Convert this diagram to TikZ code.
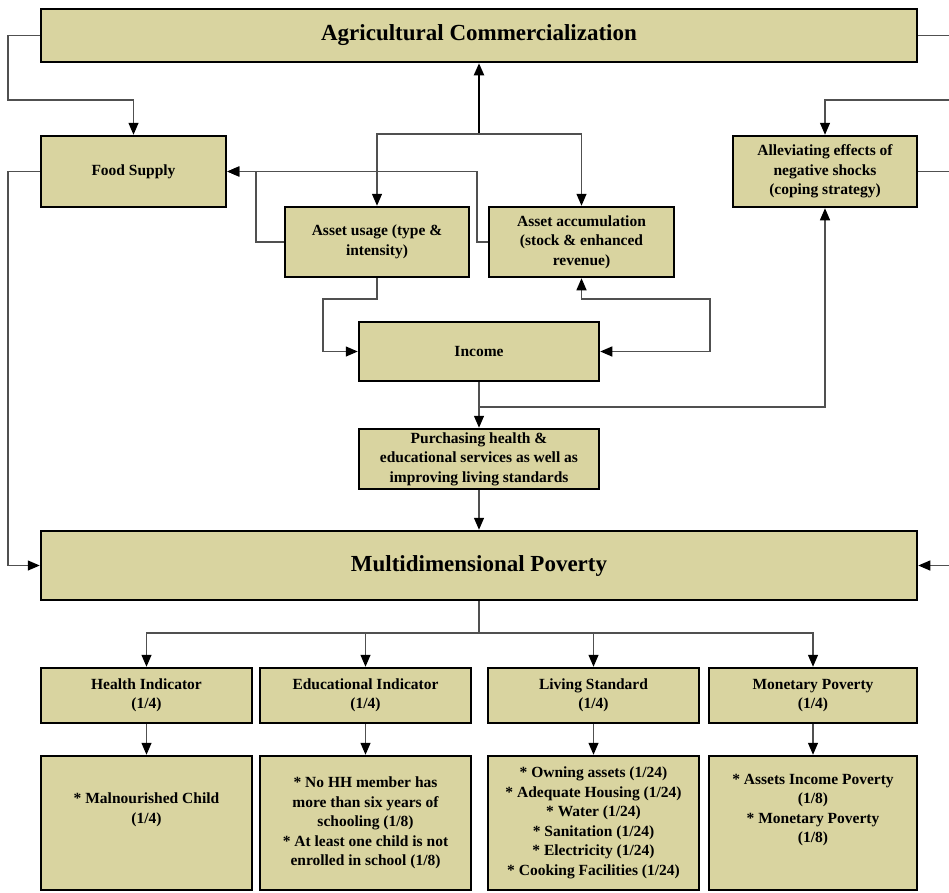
\documentclass[tikz,border=0pt]{standalone}
\usepackage{fontspec}
\setmainfont{Liberation Serif}
\usepackage{tikz}
\usetikzlibrary{arrows.meta}

\definecolor{khaki}{RGB}{217,212,160}
\definecolor{wire}{RGB}{80,80,80}

\begin{document}
\begin{tikzpicture}[x=1pt,y=-1pt,
	>={Triangle[length=12pt,width=10pt,color=black]},
	box/.style={draw=black,line width=2.5pt,fill=khaki,align=center,inner sep=2pt,
		font=\bfseries\fontsize{15.5}{19.5}\selectfont},
	head/.style={box,font=\bfseries\fontsize{23}{26}\selectfont},
	link/.style={draw=wire,line width=1.3pt},
	]

	\path[use as bounding box] (0,0) rectangle (949,892);
	\clip (0,0) rectangle (949,892);

	\coordinate (ne) at (960,100);
	\coordinate (se) at (960,565.5);
	\coordinate (nw) at (8,100);
	\coordinate (sw) at (8,565.5);
	\coordinate (junc) at (479,134);
	\coordinate (fs) at (256,171.5);
	\coordinate (fa) at (477,171.5);
	\coordinate (ul) at (323,299);
	\coordinate (ir) at (710,299);
	\coordinate (tap) at (479,407);
	\coordinate (split) at (479,633);

	\node[head, minimum width=876pt, minimum height=53pt] (agri) at (479,35.5) {Agricultural Commercialization};
	\node[box, minimum width=185pt, minimum height=71pt] (food) at (133.5,171.5) {Food Supply};
	\node[box, minimum width=184pt, minimum height=71pt] (allev) at (825,171.5) {Alleviating effects of\\negative shocks\\(coping strategy)};
	\node[box, minimum width=184pt, minimum height=70pt] (use) at (377,242) {Asset usage (type \&\\intensity)};
	\node[box, minimum width=185pt, minimum height=70pt] (accum) at (581.5,242) {Asset accumulation\\(stock \& enhanced\\revenue)};
	\node[box, minimum width=240pt, minimum height=59pt] (income) at (479,351.5) {Income};
	\node[box, minimum width=240pt, minimum height=60pt] (purch) at (479,459) {Purchasing health \&\\educational services as well as\\improving living standards};
	\node[head, minimum width=876pt, minimum height=69pt] (multi) at (479,565.5) {Multidimensional Poverty};

	\node[box, minimum width=211pt, minimum height=55pt] (health) at (146.5,695.5) {Health Indicator\\(1/4)};
	\node[box, minimum width=211pt, minimum height=55pt] (edu) at (365.5,695.5) {Educational Indicator\\(1/4)};
	\node[box, minimum width=211pt, minimum height=55pt] (living) at (593.5,695.5) {Living Standard\\(1/4)};
	\node[box, minimum width=208pt, minimum height=55pt] (money) at (813,695.5) {Monetary Poverty\\(1/4)};

	\node[box, minimum width=211pt, minimum height=134pt] (healthd) at (146.5,823) {* Malnourished Child\\(1/4)\\[10pt]};
	\node[box, minimum width=211pt, minimum height=134pt] (edud) at (365.5,823) {* No HH member has\\more than six years of\\schooling (1/8)\\* At least one child is not\\enrolled in school (1/8)};
	\node[box, minimum width=211pt, minimum height=134pt] (livingd) at (593.5,823) {* Owning assets (1/24)\\* Adequate Housing (1/24)\\* Water (1/24)\\* Sanitation (1/24)\\* Electricity (1/24)\\* Cooking Facilities (1/24)};
	\node[box, minimum width=208pt, minimum height=134pt] (moneyd) at (813,823) {* Assets Income Poverty\\(1/8)\\* Monetary Poverty\\(1/8)\\[10pt]};

	\draw[link,->] (agri.west) -| (nw) -| (food.north);
	\draw[link,->] (agri.east) -| (ne) -| (allev.north);
	\draw[link,->] (allev.east) -| (se) -- (multi.east);
	\draw[link,->] (food.west) -| (sw) -- (multi.west);

	\draw[line width=2pt,->] (junc) -- (agri.south);
	\draw[link,<->] (use.north) |- (junc) -| (accum.north);

	\draw[link,->] (use.west) -| (fs) -- (food.east);
	\draw[link,->] (accum.west) -| (fa) -- (food.east);

	\draw[link,->] (use.south) |- (ul) |- (income.west);
	\draw[link,<->] (income.east) -| (ir) -| (accum.south);

	\draw[link,->] (income.south) -- (purch.north);
	\draw[link,->] (tap) -| (allev.south);
	\draw[link,->] (purch.south) -- (multi.north);

	\draw[link] (multi.south) -- (split);
	\foreach \n in {health,edu,living,money}
		\draw[link,->] (split) -| (\n.north);
	\draw[link,->] (health) -- (healthd);
	\draw[link,->] (edu) -- (edud);
	\draw[link,->] (living) -- (livingd);
	\draw[link,->] (money) -- (moneyd);

\end{tikzpicture}
\end{document}
